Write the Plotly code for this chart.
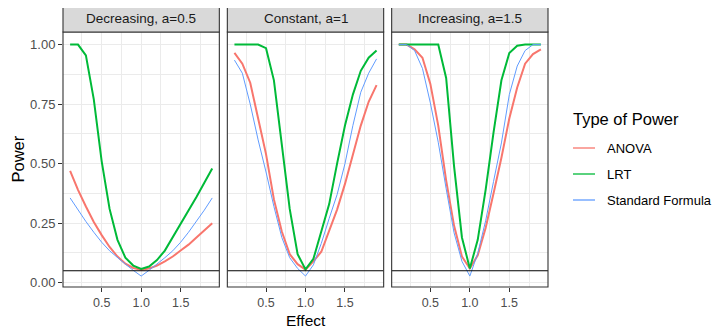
import plotly.graph_objects as go

# ---------------- data ----------------
effect = [0.1, 0.2, 0.3, 0.4, 0.5, 0.6, 0.7, 0.8, 0.9, 1.0,
          1.1, 1.2, 1.3, 1.4, 1.5, 1.6, 1.7, 1.8, 1.9]

panel_titles = ["Decreasing, a=0.5", "Constant, a=1", "Increasing, a=1.5"]
series_names = ["ANOVA", "LRT", "Standard Formula"]
legend_title = "Type of Power"

# Decreasing, a=0.5
anova_dec = [0.47, 0.39, 0.32, 0.255, 0.20, 0.15, 0.11, 0.08, 0.062, 0.055,
             0.06, 0.072, 0.09, 0.11, 0.135, 0.16, 0.19, 0.22, 0.25]
lrt_dec = [1.0, 1.0, 0.955, 0.77, 0.51, 0.31, 0.18, 0.105, 0.072, 0.058,
           0.068, 0.095, 0.135, 0.19, 0.245, 0.30, 0.36, 0.42, 0.48]
std_dec = [0.356, 0.305, 0.257, 0.212, 0.17, 0.134, 0.105, 0.078, 0.052, 0.028,
           0.052, 0.078, 0.105, 0.134, 0.17, 0.212, 0.257, 0.305, 0.356]

# Constant, a=1
anova_con = [0.965, 0.92, 0.84, 0.69, 0.54, 0.35, 0.215, 0.12, 0.078, 0.055,
             0.09, 0.13, 0.215, 0.307, 0.415, 0.54, 0.66, 0.76, 0.83]
lrt_con = [1.0, 1.0, 1.0, 1.0, 0.985, 0.85, 0.58, 0.31, 0.12, 0.056,
           0.10, 0.21, 0.33, 0.50, 0.66, 0.79, 0.89, 0.945, 0.975]
std_con = [0.935, 0.88, 0.75, 0.60, 0.465, 0.32, 0.19, 0.105, 0.06, 0.028,
           0.075, 0.165, 0.27, 0.37, 0.50, 0.66, 0.80, 0.88, 0.94]

# Increasing, a=1.5
anova_inc = [1.0, 1.0, 0.98, 0.945, 0.835, 0.66, 0.43, 0.24, 0.11, 0.06,
             0.115, 0.23, 0.375, 0.525, 0.69, 0.82, 0.92, 0.96, 0.98]
lrt_inc = [1.0, 1.0, 1.0, 1.0, 1.0, 1.0, 0.86, 0.49, 0.19, 0.06,
           0.18, 0.39, 0.63, 0.85, 0.965, 0.995, 1.0, 1.0, 1.0]
std_inc = [1.0, 1.0, 0.975, 0.90, 0.755, 0.59, 0.395, 0.21, 0.09, 0.028,
           0.123, 0.26, 0.425, 0.587, 0.79, 0.91, 0.975, 1.0, 1.0]

panel_data = [
    [anova_dec, lrt_dec, std_dec],
    [anova_con, lrt_con, std_con],
    [anova_inc, lrt_inc, std_inc],
]

alpha_level = 0.05

x_tick_vals = [0.5, 1.0, 1.5]
x_tick_text = ["0.5", "1.0", "1.5"]
x_minor_vals = [0.25, 0.75, 1.25, 1.75]
y_tick_vals = [0.0, 0.25, 0.5, 0.75, 1.0]
y_tick_text = ["0.00", "0.25", "0.50", "0.75", "1.00"]
y_minor_vals = [0.125, 0.375, 0.625, 0.875]

# ---------------- style ----------------
FONT = "Liberation Sans, Arial, sans-serif"
colors = ["#F8766D", "#00BA38", "#619CFF"]
widths = [2.0, 2.0, 1.0]
GRID = "#EBEBEB"
DARK = "#333333"

# page body has an 8px margin; size the figure so the plot sits where wanted
OFF = 8
W, H = 720 - OFF, 329 - OFF
ML, MR, MT, MB = 63 - OFF, 172, 32 - OFF, 42
PW = W - ML - MR
PH = H - MT - MB


def px(wx):  # window x -> paper x
    return (wx - 63) / PW


def py(wy):  # window y -> paper y
    return (287 - wy) / PH


gap = 8 / PW
pw = (1 - 2 * gap) / 3
domains = [[i * (pw + gap), i * (pw + gap) + pw] for i in range(3)]
domains[2][1] = 1.0

fig = go.Figure()

for p in range(3):
    xa = "x" if p == 0 else f"x{p+1}"
    ya = "y" if p == 0 else f"y{p+1}"
    for s in range(3):
        fig.add_trace(go.Scatter(
            x=effect, y=panel_data[p][s], mode="lines",
            name=series_names[s], legendgroup=series_names[s],
            showlegend=False,
            line=dict(color=colors[s], width=widths[s]),
            xaxis=xa, yaxis=ya,
        ))

layout = dict(
    width=W, height=H,
    margin=dict(l=ML, r=MR, t=MT, b=MB),
    paper_bgcolor="white", plot_bgcolor="white",
    font=dict(family=FONT, color="#000000"),
    showlegend=False,
)

shapes = []
annotations = []
for p in range(3):
    xk = "xaxis" if p == 0 else f"xaxis{p+1}"
    yk = "yaxis" if p == 0 else f"yaxis{p+1}"
    xref = "x" if p == 0 else f"x{p+1}"
    yref = "y" if p == 0 else f"y{p+1}"
    layout[xk] = dict(
        domain=domains[p], anchor=yref, range=[0.01, 1.99],
        tickmode="array", tickvals=x_tick_vals, ticktext=x_tick_text,
        showgrid=True, gridcolor=GRID, gridwidth=1.1,
        minor=dict(tickmode="array", tickvals=x_minor_vals, showgrid=True,
                   gridcolor=GRID, gridwidth=0.6, ticks=""),
        ticks="outside", ticklen=4, tickcolor=DARK, tickwidth=1,
        tickfont=dict(size=12.5, color="#4D4D4D"),
        ticklabelstandoff=0,
        showline=False, zeroline=False,
    )
    layout[yk] = dict(
        domain=[0, 1], anchor=xref, range=[-0.018, 1.053],
        tickmode="array", tickvals=y_tick_vals, ticktext=y_tick_text,
        showgrid=True, gridcolor=GRID, gridwidth=1.1,
        minor=dict(tickmode="array", tickvals=y_minor_vals, showgrid=True,
                   gridcolor=GRID, gridwidth=0.6, ticks=""),
        ticks="outside" if p == 0 else "", ticklen=4, tickcolor=DARK, tickwidth=1,
        showticklabels=(p == 0),
        tickfont=dict(size=13, color="#4D4D4D"),
        showline=False, zeroline=False,
    )
    if p > 0:
        layout[yk]["matches"] = "y"
    # reference line
    shapes.append(dict(type="line", xref=f"{xref} domain", yref=yref,
                       x0=0, x1=1, y0=alpha_level, y1=alpha_level,
                       line=dict(color="black", width=1.1), layer="above"))
    # panel border
    shapes.append(dict(type="rect", xref=f"{xref} domain", yref=f"{yref} domain",
                       x0=0, x1=1, y0=0, y1=1,
                       line=dict(color=DARK, width=1.1), layer="above"))
    # strip
    shapes.append(dict(type="rect", xref=f"{xref} domain", yref="paper",
                       x0=0, x1=1, y0=1, y1=1 + 26 / PH,
                       fillcolor="#D9D9D9", line=dict(color=DARK, width=1.1),
                       layer="above"))
    annotations.append(dict(text=panel_titles[p], xref=f"{xref} domain", yref="paper",
                            x=0.5, y=1 + 13 / PH, showarrow=False,
                            xanchor="center", yanchor="middle",
                            font=dict(size=13.5, color="#1A1A1A")))

annotations.append(dict(text="Effect", xref="paper", yref="paper",
                        x=0.5, y=py(320),
                        showarrow=False, xanchor="center", yanchor="middle",
                        font=dict(size=15.5, color="#000000")))
annotations.append(dict(text="Power", xref="paper", yref="paper",
                        x=px(17), y=0.5, textangle=-90,
                        showarrow=False, xanchor="center", yanchor="middle",
                        font=dict(size=16.5, color="#000000")))

# legend (drawn by hand for exact placement)
annotations.append(dict(text=legend_title, xref="paper", yref="paper",
                        x=px(571), y=py(119), showarrow=False,
                        xanchor="left", yanchor="middle",
                        font=dict(size=16.5, color="#000000")))
legend_rows = [148, 174, 200]
for s in range(3):
    shapes.append(dict(type="line", xref="paper", yref="paper",
                       x0=px(573), x1=px(595), y0=py(legend_rows[s]), y1=py(legend_rows[s]),
                       line=dict(color=colors[s], width=1.3)))
    annotations.append(dict(text=series_names[s], xref="paper", yref="paper",
                            x=px(605), y=py(legend_rows[s]), showarrow=False,
                            xanchor="left", yanchor="middle",
                            font=dict(size=13, color="#000000")))

layout["shapes"] = shapes
layout["annotations"] = annotations
fig.update_layout(**layout)

fig.write_html("out.html")
